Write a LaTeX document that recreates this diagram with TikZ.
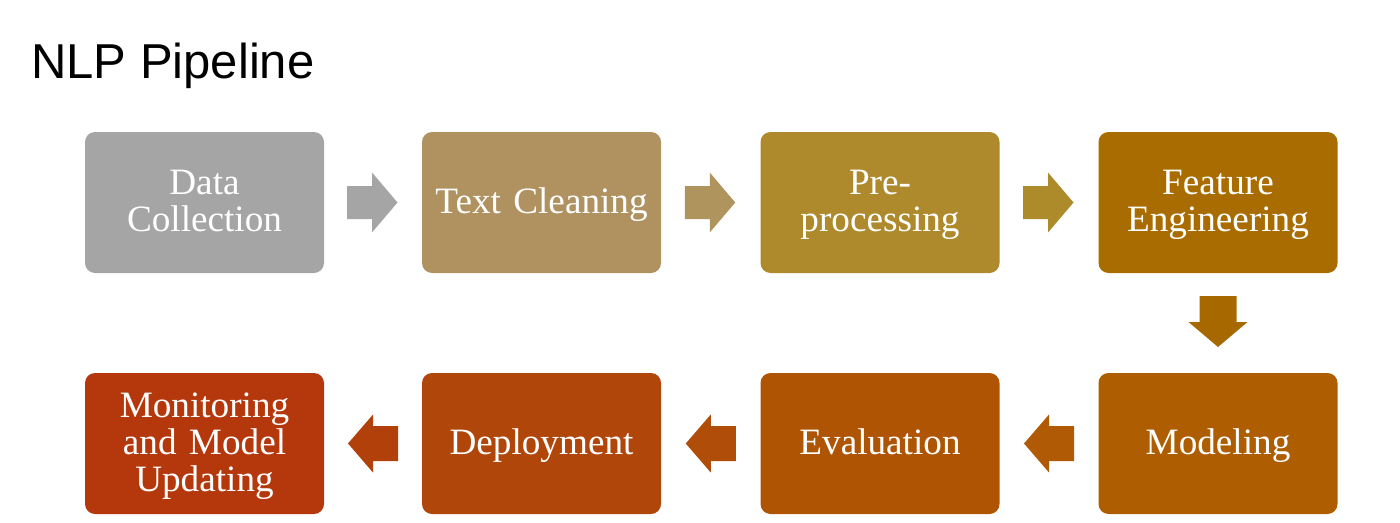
\documentclass[tikz,border=0pt]{standalone}
\usepackage{fontspec}
\setmainfont[WordSpace=0.75]{Liberation Serif}
\newfontfamily\titlefont{Liberation Sans}
\usetikzlibrary{calc}
\definecolor{cA}{HTML}{A5A5A5}
\definecolor{cB}{HTML}{AF9260}
\definecolor{cC}{HTML}{AE8A2C}
\definecolor{cD}{HTML}{A86C00}
\definecolor{cE}{HTML}{AE5E00}
\definecolor{cF}{HTML}{AF5403}
\definecolor{cG}{HTML}{B0460A}
\definecolor{cH}{HTML}{B5380C}
\definecolor{aA}{HTML}{A5A5A5}
\definecolor{aB}{HTML}{AF945E}
\definecolor{aC}{HTML}{AD8A2A}
\definecolor{aD}{HTML}{A86800}
\definecolor{aE}{HTML}{B05A05}
\definecolor{aF}{HTML}{B04D08}
\definecolor{aG}{HTML}{B2400B}
\newcommand\mystrut{\rule[-9pt]{0pt}{39pt}}
\begin{document}
\begin{tikzpicture}[x=1pt,y=-1pt,
  stagebox/.style={rounded corners=10pt, minimum width=239pt, minimum height=141pt,
    inner sep=0pt, text=white, align=center, text width=232pt,
    font={\fontsize{37.2}{37}\selectfont\lineskiplimit=-100pt}},
  ]
\useasboundingbox (0,0) rectangle (1400,522);
\node[anchor=base west, font=\titlefont\fontsize{49}{55}\selectfont, inner sep=0pt] (title) at (31,78) {NLP Pipeline};
% top row
\node[stagebox, fill=cA] (n1) at (204.5,202.5) {\mystrut Data\\\mystrut Collection};
\node[stagebox, fill=cB] (n2) at (541.5,202.5) {\mystrut Text Cleaning};
\node[stagebox, fill=cC] (n3) at (880,202.5) {\mystrut Pre-\\\mystrut processing};
\node[stagebox, fill=cD] (n4) at (1218,202.5) {\mystrut Feature\\\mystrut Engineering};
% bottom row
\node[stagebox, fill=cE] (n5) at (1218,443.5) {\mystrut Modeling};
\node[stagebox, fill=cF] (n6) at (880,443.5) {\mystrut Evaluation};
\node[stagebox, fill=cG] (n7) at (541.5,443.5) {\mystrut Deployment};
\node[stagebox, fill=cH] (n8) at (204.5,443.5) {\mystrut Monitoring\\\mystrut and Model\\\mystrut Updating};
% right arrows
\foreach \a/\b/\c in {n1/n2/aA, n2/n3/aB, n3/n4/aC}{
  \fill[\c, shift={($(\a.east)!0.5!(\b.west)$)}]
    (-26,-16.5) -- (-1,-16.5) -- (-1,-30) -- (24.5,0) -- (-1,30) -- (-1,16.5) -- (-26,16.5) -- cycle;
}
% left arrows
\foreach \a/\b/\c in {n5/n6/aE, n6/n7/aF, n7/n8/aG}{
  \fill[\c, shift={($(\a.west)!0.5!(\b.east)$)}]
    (25,-17.5) -- (0,-17.5) -- (0,-29) -- (-25,0) -- (0,29) -- (0,17.5) -- (25,17.5) -- cycle;
}
% down arrow
\fill[aD, shift={($(n4.south)!0.5!(n5.north)$)}]
  (-18.5,-27) -- (18.5,-27) -- (18.5,-1) -- (29.5,-1) -- (0,24) -- (-29.5,-1) -- (-18.5,-1) -- cycle;
\end{tikzpicture}
\end{document}
